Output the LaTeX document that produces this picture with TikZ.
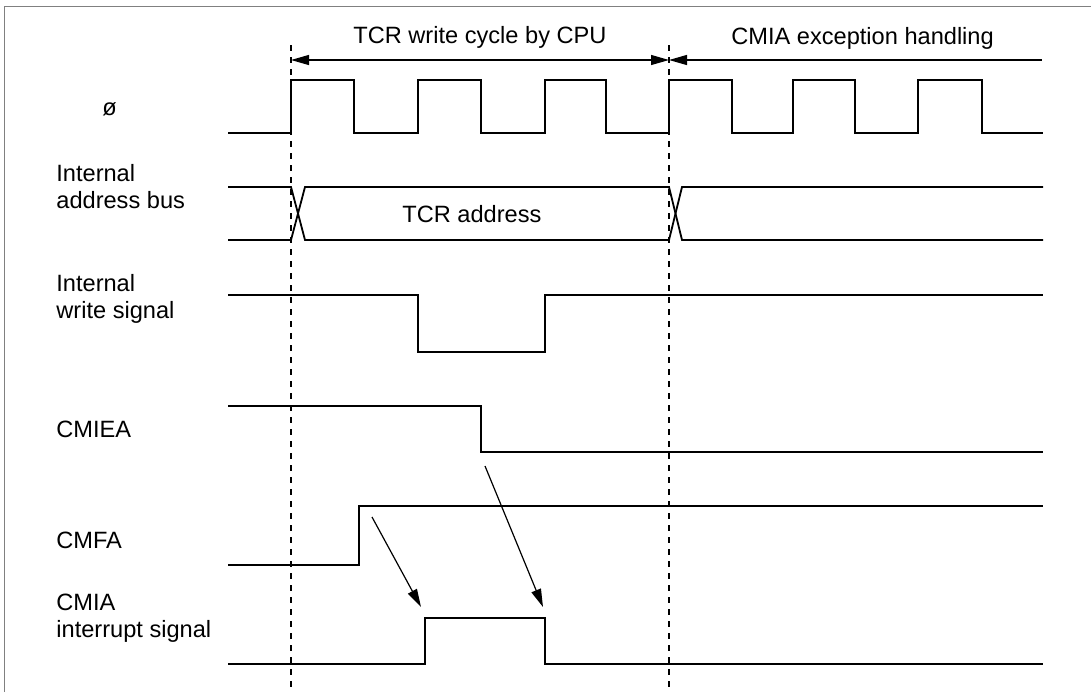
\documentclass[tikz,border=0pt]{standalone}
\usepackage{fontspec}
\setmainfont{Liberation Sans}
\usetikzlibrary{arrows.meta}
\begin{document}
\begin{tikzpicture}[x=0.5pt,y=-0.5pt,
  sig/.style={line width=0.9pt, line join=miter},
  guide/.style={line width=0.6pt, dash pattern=on 3pt off 3pt},
  lbl/.style={anchor=base west, inner sep=0pt, font=\fontsize{11.8}{13.5}\selectfont, align=left},
  dim/.style={line width=0.6pt},
  tip/.style={-{Triangle[length=9pt,width=5pt]}},
  cause/.style={line width=0.6pt, -{Triangle[length=9pt,width=5pt]}}]
\useasboundingbox (0,0) rectangle (1091,692);
\fill[white] (0,0) rectangle (1091,692);
% frame
\draw[gray, line width=0.8pt] (4.5,692) -- (4.5,6.5) -- (1091,6.5);
% guides
\coordinate (g1t) at (291,45); \coordinate (g1b) at (291,692);
\coordinate (g2t) at (669,45); \coordinate (g2b) at (669,692);
\draw[guide] (g1t) -- (g1b);
\draw[guide] (g2t) -- (g2b);
% dimension arrows
\coordinate (d1) at (291,60); \coordinate (d2) at (669,60); \coordinate (d3) at (1042,60);
\draw[dim, {Triangle[length=9pt,width=5pt]}-{Triangle[length=9pt,width=5pt]}] (d1) -- (d2);
\draw[dim, {Triangle[length=9pt,width=5pt]}-] (d2) -- (d3);
\node[lbl] (h1) at (353,43) {TCR write cycle by CPU};
\node[lbl] (h2) at (731,44) {CMIA exception handling};
% clock
\node[lbl] (lclk) at (102,115) {ø};
\draw[sig] (228,133) -- (291,133) -- (291,80) -- (354,80) -- (354,133) -- (418,133) -- (418,80)
  -- (481,80) -- (481,133) -- (545,133) -- (545,80) -- (606,80) -- (606,133) -- (669,133)
  -- (669,80) -- (732,80) -- (732,133) -- (793,133) -- (793,80) -- (855,80) -- (855,133)
  -- (918,133) -- (918,80) -- (982,80) -- (982,133) -- (1043,133);
% address bus
\node[lbl] (laddr) at (56,208) {Internal\\address bus};
\draw[sig] (228,187) -- (291,187) -- (305,240) -- (669,240) -- (682,187) -- (1043,187);
\draw[sig] (228,240) -- (291,240) -- (305,187) -- (669,187) -- (682,240) -- (1043,240);
\node[lbl] (taddr) at (402,222) {TCR address};
% write signal
\node[lbl] (lwr) at (56,318) {Internal\\write signal};
\draw[sig] (228,295) -- (418,295) -- (418,352) -- (545,352) -- (545,295) -- (1043,295);
% CMIEA
\node[lbl] (lcmiea) at (56,437) {CMIEA};
\draw[sig] (228,406) -- (481,406) -- (481,452) -- (1043,452);
% CMFA
\node[lbl] (lcmfa) at (56,548) {CMFA};
\draw[sig] (228,565) -- (359,565) -- (359,506) -- (1043,506);
% CMIA
\node[lbl] (lcmia) at (56,637) {CMIA\\interrupt signal};
\draw[sig] (228,664) -- (425,664) -- (425,618) -- (545,618) -- (545,664) -- (1043,664);
% causal arrows
\coordinate (a1s) at (372,517); \coordinate (a1e) at (421,607);
\coordinate (a2s) at (485,466); \coordinate (a2e) at (543,607);
\draw[cause] (a1s) -- (a1e);
\draw[cause] (a2s) -- (a2e);
\end{tikzpicture}
\end{document}
